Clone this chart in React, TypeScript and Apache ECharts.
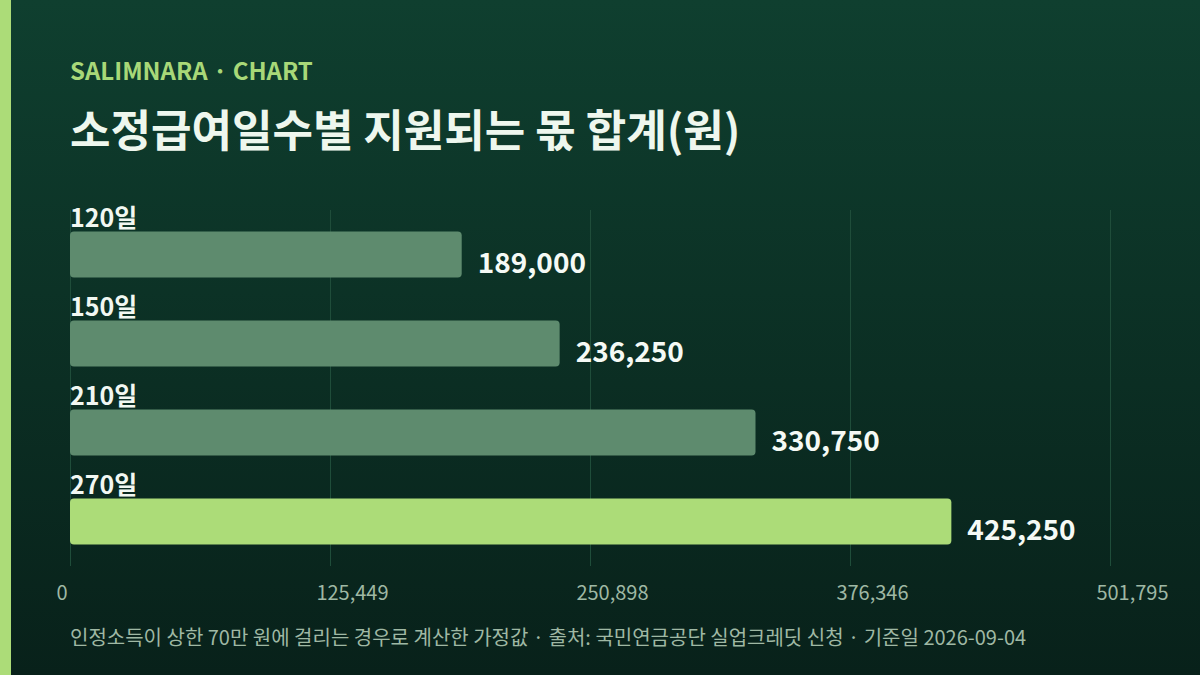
import React from 'react';
import * as echarts from 'echarts';

// 소정급여일수별 실업크레딧 지원 합계 (원)
const categories = ['120일', '150일', '210일', '270일'];
const values = [189000, 236250, 330750, 425250];
const axisMax = 501795;
const axisInterval = 125448.75;

const FONT = '"Noto Sans CJK KR", "Noto Sans", sans-serif';
const fmt = (v: number) => Math.round(v).toLocaleString('en-US');

const App = () => {
  const chartRef = React.useRef<HTMLDivElement>(null);

  React.useEffect(() => {
    const myChart = echarts.init(chartRef.current, null, { renderer: 'svg' });

    const valueAxisBase = {
      type: 'value',
      min: 0,
      max: axisMax,
      interval: axisInterval,
      axisLine: { show: false },
      axisTick: { show: false },
    };

    myChart.setOption({
      animation: false,
      backgroundColor: {
        type: 'linear',
        x: 0,
        y: 0,
        x2: 0,
        y2: 1,
        colorStops: [
          { offset: 0, color: '#0f3f2f' },
          { offset: 1, color: '#08211a' },
        ],
      },
      textStyle: { fontFamily: FONT },
      graphic: [
        { type: 'rect', left: 0, top: 0, shape: { width: 11, height: 675 }, style: { fill: '#acdc78' } },
        {
          type: 'text',
          left: 70,
          top: 57,
          style: { text: 'SALIMNARA · CHART', fill: '#a8d878', font: `bold 24px ${FONT}` },
        },
        {
          type: 'text',
          left: 70,
          top: 106,
          style: { text: '소정급여일수별 지원되는 몫 합계(원)', fill: '#eef7ee', font: `bold 44px ${FONT}` },
        },
        {
          type: 'text',
          left: 70,
          top: 626,
          style: {
            text: '인정소득이 상한 70만 원에 걸리는 경우로 계산한 가정값 · 출처: 국민연금공단 실업크레딧 신청 · 기준일 2026-09-04',
            fill: '#9fb8a4',
            font: `20px ${FONT}`,
          },
        },
      ],
      grid: [
        { left: 70, right: 90, top: 210, height: 356, containLabel: false },
        // 눈금 글자만 왼쪽으로 살짝 밀어 둔 보조 격자
        { left: 56.4, right: 103.6, top: 210, height: 356, containLabel: false },
      ],
      xAxis: [
        {
          ...valueAxisBase,
          gridIndex: 0,
          splitLine: { lineStyle: { color: '#1f4d3a', width: 1 } },
          axisLabel: { show: false },
        },
        {
          ...valueAxisBase,
          gridIndex: 1,
          splitLine: { show: false },
          axisLabel: {
            color: '#9fb8a4',
            fontSize: 20,
            margin: 15,
            align: 'left',
            formatter: (v: number) => fmt(v),
          },
        },
      ],
      yAxis: [
        {
          type: 'category',
          gridIndex: 0,
          data: categories,
          inverse: true,
          axisLine: { show: false },
          axisTick: { show: false },
          axisLabel: {
            inside: true,
            interval: 0,
            margin: 0,
            align: 'left',
            verticalAlign: 'middle',
            formatter: (v: string) => `{a|${v}}\n{s|}`,
            rich: {
              a: { color: '#f2f8f2', fontSize: 25, fontWeight: 'bold', lineHeight: 28 },
              s: { height: 78, lineHeight: 78 },
            },
          },
          z: 5,
        },
        {
          type: 'category',
          gridIndex: 1,
          data: categories,
          show: false,
        },
      ],
      series: [
        {
          type: 'bar',
          xAxisIndex: 0,
          yAxisIndex: 0,
          data: values.map((v, i) => ({
            value: v,
            itemStyle: { color: i === values.length - 1 ? '#acdc78' : '#5e8b6e' },
          })),
          barWidth: 46,
          itemStyle: { borderRadius: 4 },
          label: {
            show: true,
            position: 'right',
            distance: 16,
            offset: [0, 6],
            color: '#f5faf5',
            fontSize: 28,
            fontWeight: 'bold',
            formatter: (p: any) => fmt(p.value),
          },
        },
      ],
    });

    return () => {
      myChart.dispose();
    };
  }, []);

  return (
    <div
      ref={chartRef}
      style={{ position: 'fixed', left: 0, top: 0, width: '1200px', height: '675px' }}
    />
  );
};

export default App;
